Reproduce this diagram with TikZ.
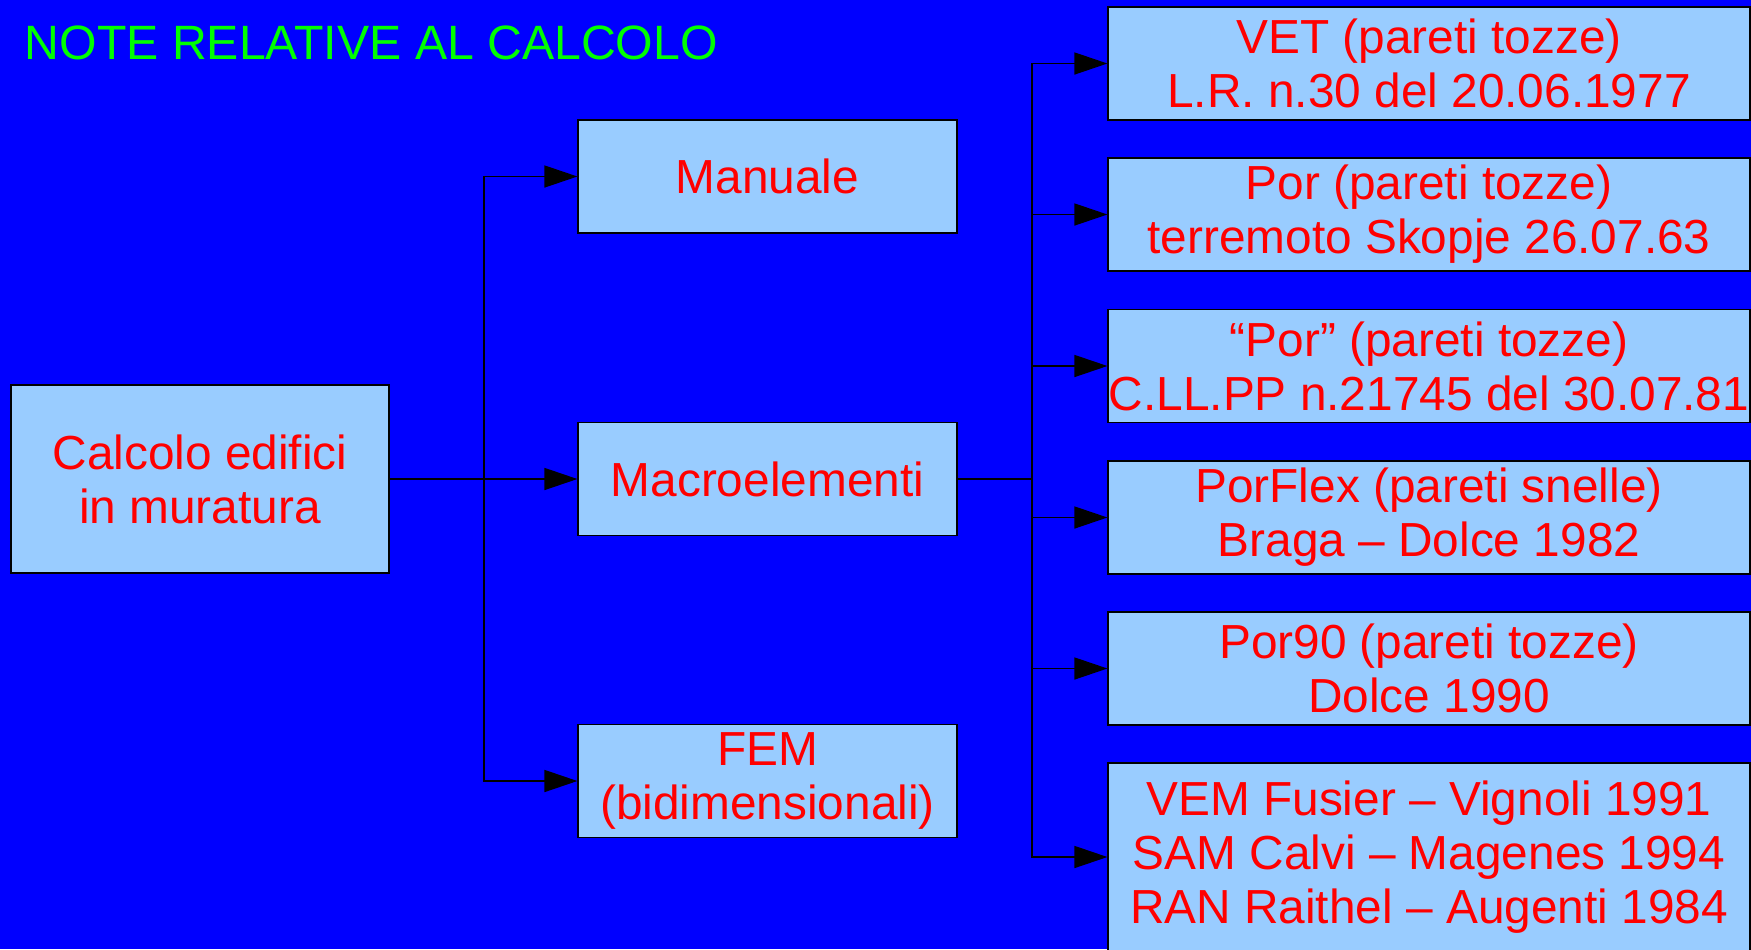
\documentclass[tikz,border=0pt]{standalone}
\usepackage{fontspec}
\setmainfont{Liberation Sans}
\usetikzlibrary{arrows.meta}
\definecolor{bgblue}{RGB}{0,0,255}
\definecolor{boxblue}{RGB}{153,204,255}
\definecolor{txtred}{RGB}{255,0,0}
\definecolor{titlegreen}{RGB}{0,255,0}
\tikzset{
  box/.style={draw=black, line width=0.6pt, fill=boxblue, text=txtred, align=center,
    inner sep=0pt, font=\fontsize{23.9}{27}\selectfont},
  conn/.style={draw=black, line width=0.75pt},
  arr/.style={conn, -{Triangle[length=16.5pt,width=11pt]}},
}
\begin{document}
\begin{tikzpicture}[x=0.5pt,y=-0.5pt]
\fill[bgblue] (0,0) rectangle (1751,949);
\useasboundingbox (0,0) rectangle (1751,949);
\node[anchor=base west, text=titlegreen, inner sep=0pt, font=\fontsize{24.1}{27}\selectfont] (title) at (24.5,59) {NOTE RELATIVE AL CALCOLO};
% left
\node[box, minimum width=189pt, minimum height=94pt] (calc) at (200,479) {Calcolo edifici\\in muratura};
% middle
\node[box, minimum width=189.5pt, minimum height=56.5pt] (man) at (767.5,176.5) {Manuale};
\node[box, minimum width=189.5pt, minimum height=56.5pt] (mac) at (767.5,479) {Macroelementi};
\node[box, minimum width=189.5pt, minimum height=56.5pt] (fem) at (767.5,781) {FEM\\(bidimensionali)};
% right
\node[box, minimum width=321pt, minimum height=56.5pt] (r1) at (1429,63.5) {VET (pareti tozze)\\L.R. n.30 del 20.06.1977};
\node[box, minimum width=321pt, minimum height=56.5pt] (r2) at (1429,214.5) {Por (pareti tozze)\\terremoto Skopje 26.07.63};
\node[box, minimum width=321pt, minimum height=56.5pt] (r3) at (1429,366) {“Por” (pareti tozze)\\C.LL.PP n.21745 del 30.07.81};
\node[box, minimum width=321pt, minimum height=56.5pt] (r4) at (1429,517.5) {PorFlex (pareti snelle)\\Braga – Dolce 1982};
\node[box, minimum width=321pt, minimum height=56.5pt] (r5) at (1429,668.5) {Por90 (pareti tozze)\\Dolce 1990};
\node[box, minimum width=321pt, minimum height=94pt] (r6) at (1429,857) {VEM Fusier – Vignoli 1991\\SAM Calvi – Magenes 1994\\RAN Raithel – Augenti 1984};
% connectors
\coordinate (t1) at (484,479);
\coordinate (t2) at (1032,479);
\draw[arr] (calc.east) -- (mac.west);
\draw[arr] (t1) |- (man.west);
\draw[arr] (t1) |- (fem.west);
\draw[conn] (mac.east) -- (t2);
\draw[arr] (t2) |- (r1.west);
\draw[arr] (t2) |- (r2.west);
\draw[arr] (t2) |- (r3.west);
\draw[arr] (t2) |- (r4.west);
\draw[arr] (t2) |- (r5.west);
\draw[arr] (t2) |- (r6.west);
\end{tikzpicture}
\end{document}
